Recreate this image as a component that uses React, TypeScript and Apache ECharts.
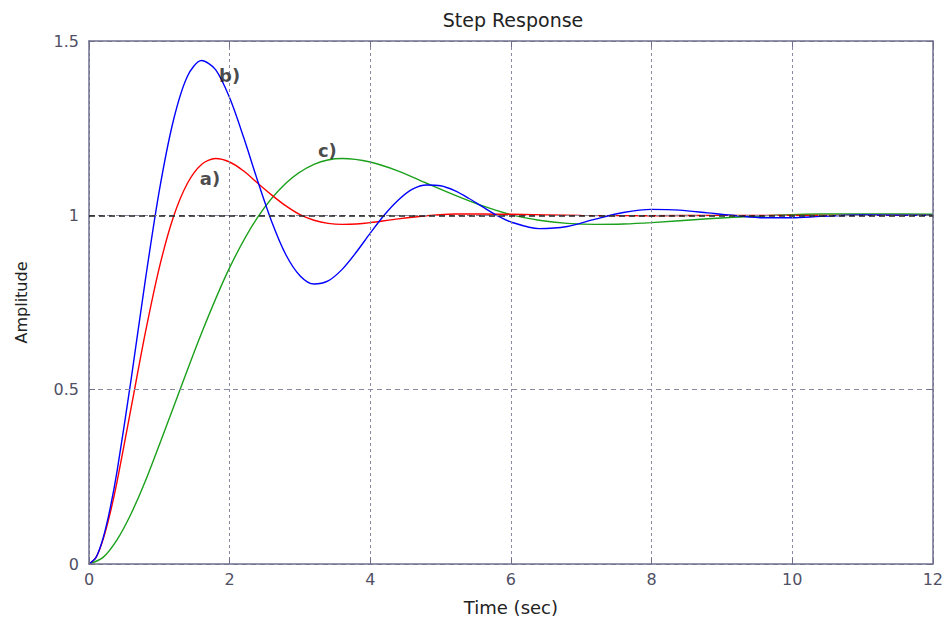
import React, { useEffect, useRef } from "react";
import * as echarts from "echarts";

// a) red response
const timeA = [0, 0.1, 0.2, 0.3, 0.4, 0.6, 0.8, 1.0, 1.2, 1.4, 1.6, 1.8, 2.0, 2.2, 2.4, 2.6, 2.8, 3.0, 3.2, 3.4, 3.6, 3.8, 4.0, 4.4, 4.8, 5.2, 5.6, 6.0, 7.0, 8.0, 9.0, 10.0, 11.0, 12.0];
const ampA = [0, 0.019, 0.070, 0.145, 0.237, 0.449, 0.662, 0.850, 0.995, 1.092, 1.146, 1.163, 1.153, 1.127, 1.092, 1.058, 1.027, 1.002, 0.986, 0.977, 0.974, 0.975, 0.979, 0.990, 0.999, 1.004, 1.004, 1.003, 1.000, 0.999, 1.000, 1.000, 1.000, 1.000];

// b) blue response
const timeB = [0, 0.1, 0.2, 0.3, 0.4, 0.6, 0.8, 1.0, 1.2, 1.4, 1.6, 1.8, 2.0, 2.2, 2.4, 2.6, 2.8, 3.0, 3.2, 3.4, 3.6, 3.8, 4.0, 4.2, 4.4, 4.6, 4.8, 5.0, 5.2, 5.4, 5.6, 5.8, 6.0, 6.4, 6.8, 7.2, 7.6, 8.0, 8.4, 8.8, 9.2, 9.6, 10.0, 10.4, 11.0, 12.0];
const ampB = [0, 0.019, 0.074, 0.159, 0.267, 0.531, 0.813, 1.071, 1.272, 1.399, 1.444, 1.418, 1.337, 1.223, 1.098, 0.981, 0.887, 0.827, 0.803, 0.812, 0.845, 0.894, 0.949, 1.001, 1.044, 1.075, 1.087, 1.085, 1.071, 1.049, 1.024, 1.000, 0.981, 0.962, 0.968, 0.989, 1.008, 1.017, 1.015, 1.007, 0.999, 0.993, 0.993, 0.997, 1.001, 1.000];

// c) green response
const timeC = [0, 0.2, 0.4, 0.6, 0.8, 1.2, 1.6, 2.0, 2.4, 2.8, 3.2, 3.6, 4.0, 4.4, 4.8, 5.2, 5.6, 6.0, 6.4, 6.8, 7.2, 7.6, 8.0, 8.8, 9.6, 10.4, 11.2, 12.0];
const ampC = [0, 0.019, 0.070, 0.145, 0.237, 0.449, 0.662, 0.850, 0.995, 1.092, 1.146, 1.163, 1.153, 1.127, 1.092, 1.058, 1.027, 1.002, 0.986, 0.977, 0.974, 0.975, 0.979, 0.990, 0.999, 1.004, 1.004, 1.003];

// curve annotations
const annoText = ["a)", "b)", "c)"];
const annoTime = [1.72, 2.0, 3.39];
const annoAmp = [1.107, 1.40, 1.187];

const xTicks = [0, 2, 4, 6, 8, 10, 12];
const yTicks = [0, 0.5, 1, 1.5];

const zip = (t: number[], v: number[]) => t.map((x, i) => [x, v[i]]);

const AXIS_COLOR = "#6f6f8c";
const GRID_COLOR = "#8a8aa0";
const LABEL_COLOR = "#505064";
const FONT = "DejaVu Sans, Verdana, sans-serif";

export default function App() {
  const ref = useRef<HTMLDivElement>(null);
  useEffect(() => {
    if (!ref.current) return;
    const chart = echarts.init(ref.current, undefined, { renderer: "svg" });
    const lineStyleBase = { width: 1.4 };
    const frameAxis = {
      axisLine: { show: true, onZero: false, lineStyle: { color: AXIS_COLOR, width: 1.5 } },
      axisTick: { show: true, inside: true, length: 6, lineStyle: { color: AXIS_COLOR } },
    };
    chart.setOption({
      animation: false,
      backgroundColor: "#ffffff",
      title: {
        text: "Step Response",
        left: 508,
        top: 5,
        textAlign: "center",
        textStyle: { fontFamily: FONT, fontSize: 19, fontWeight: "normal", color: "#222" },
      },
      grid: { left: 89, right: 12, top: 41, bottom: 56, show: false },
      xAxis: [
        {
          type: "value",
          min: 0,
          max: 12,
          interval: 2,
          position: "bottom",
          name: "Time (sec)",
          nameLocation: "middle",
          nameGap: 34,
          nameTextStyle: { fontFamily: FONT, fontSize: 18, color: "#222" },
          ...frameAxis,
          axisLabel: {
            fontFamily: FONT,
            fontSize: 16,
            color: LABEL_COLOR,
            margin: 7,
            formatter: (v: number) => (xTicks.includes(v) ? String(v) : ""),
          },
          splitLine: { show: true, lineStyle: { color: GRID_COLOR, type: [3, 3], width: 1 } },
          z: 5,
        },
        {
          type: "value",
          min: 0,
          max: 12,
          interval: 2,
          position: "top",
          ...frameAxis,
          axisLabel: { show: false },
          splitLine: { show: false },
          z: 5,
        },
      ],
      yAxis: [
        {
          type: "value",
          min: 0,
          max: 1.5,
          interval: 0.5,
          position: "left",
          name: "Amplitude",
          nameLocation: "middle",
          nameGap: 60,
          nameRotate: 90,
          nameTextStyle: { fontFamily: FONT, fontSize: 16, color: "#222" },
          ...frameAxis,
          axisLabel: {
            fontFamily: FONT,
            fontSize: 16,
            color: LABEL_COLOR,
            margin: 10,
            formatter: (v: number) => (yTicks.includes(v) ? String(v) : ""),
          },
          splitLine: { show: true, lineStyle: { color: GRID_COLOR, type: [5, 4], width: 1 } },
          z: 5,
        },
        {
          type: "value",
          min: 0,
          max: 1.5,
          interval: 0.5,
          position: "right",
          ...frameAxis,
          axisLabel: { show: false },
          splitLine: { show: false },
          z: 5,
        },
      ],
      series: [
        {
          name: "c",
          type: "line",
          data: zip(timeC, ampC),
          smooth: 0.3,
          showSymbol: false,
          lineStyle: { ...lineStyleBase, color: "#1aa01a" },
          z: 2,
        },
        {
          name: "a",
          type: "line",
          data: zip(timeA, ampA),
          smooth: 0.3,
          showSymbol: false,
          lineStyle: { ...lineStyleBase, color: "#ff0000" },
          z: 3,
        },
        {
          name: "b",
          type: "line",
          data: zip(timeB, ampB),
          smooth: 0.3,
          showSymbol: false,
          lineStyle: { ...lineStyleBase, color: "#0000ff" },
          z: 4,
          markLine: {
            silent: true,
            symbol: "none",
            label: { show: false },
            lineStyle: { color: "#222", type: [6, 4], width: 1.5 },
            data: [{ yAxis: 1 }],
            z: 6,
          },
        },
        {
          name: "labels",
          type: "scatter",
          symbolSize: 0,
          data: annoText.map((t, i) => ({ value: [annoTime[i], annoAmp[i]], name: t })),
          label: {
            show: true,
            position: "inside",
            formatter: (p: any) => p.name,
            fontFamily: FONT,
            fontWeight: "bold",
            fontSize: 18,
            color: "#1a1a1a",
          },
          z: 7,
        },
      ],
    });
    return () => chart.dispose();
  }, []);
  return <div ref={ref} style={{ width: 946, height: 621, position: "absolute", left: 0, top: 0 }} />;
}
